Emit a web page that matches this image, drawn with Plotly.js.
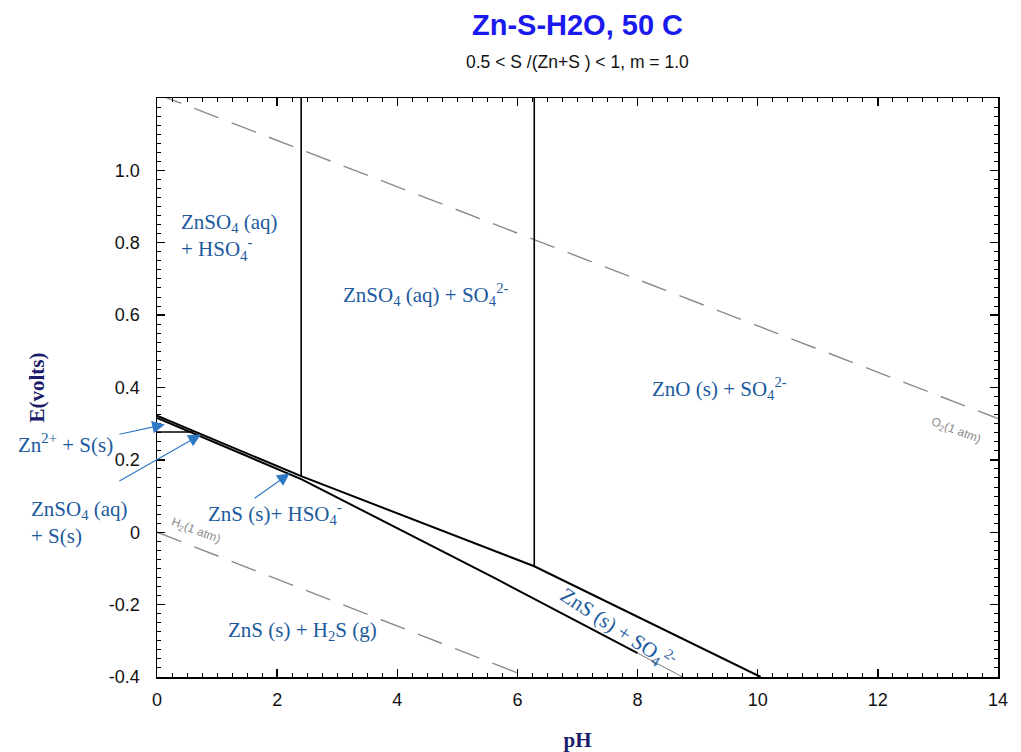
<!DOCTYPE html>
<html>
<head>
<meta charset="utf-8">
<script src="https://cdn.plot.ly/plotly-3.0.1.min.js"></script>
<style>
html,body{margin:0;padding:0;background:#fff;}
#chart{width:1021px;height:752px;}
</style>
</head>
<body>
<div id="chart"></div>
<script>
// ---- data (pH, E in volts) ----
const upperPH = [0, 2.4, 6.28, 10.05];
const upperE  = [0.322, 0.155, -0.094, -0.4];
const lowerPH = [0, 2.4, 5.6, 8.0];
const lowerE  = [0.316, 0.147, -0.125, -0.334];
const lowerTailPH = [8.0, 8.75];
const lowerTailE  = [-0.334, -0.4];
const horizPH = [0, 0.6];
const horizE  = [0.277, 0.277];
const vert1PH = [2.4, 2.4];
const vert1E  = [1.2, 0.155];
const vert2PH = [6.28, 6.28];
const vert2E  = [1.2, -0.094];
const o2PH = [0, 14];
const o2E  = [1.211, 0.314];
const h2PH = [0, 14];
const h2E  = [0, -0.907];

const xTickVals = [0, 2, 4, 6, 8, 10, 12, 14];
const xTickText = ['0', '2', '4', '6', '8', '10', '12', '14'];
const yTickVals = [-0.4, -0.2, 0, 0.2, 0.4, 0.6, 0.8, 1.0];
const yTickText = ['-0.4', '-0.2', '0', '0.2', '0.4', '0.6', '0.8', '1.0'];

// region labels inside the plot (data coordinates)
const labelText = [
  'ZnSO<sub>4</sub> (aq)<br>+ HSO<sub>4</sub><sup>-</sup>',
  'ZnSO<sub>4</sub> (aq) + SO<sub>4</sub><sup>2-</sup>',
  'ZnO (s) + SO<sub>4</sub><sup>2-</sup>',
  'ZnS (s) + H<sub>2</sub>S (g)',
  'ZnS (s)+ HSO<sub>4</sub><sup>-</sup>'
];
const labelPH = [0.37, 4.47, 9.37, 2.43, 1.97];
const labelE  = [0.815, 0.656, 0.397, -0.272, 0.053];
const labelAlign = ['left', 'center', 'center', 'center', 'center'];

// region labels outside the plot, left of the E axis (pH units, E)
const outText = ['Zn<sup>2+</sup> + S(s)', 'ZnSO<sub>4</sub> (aq)<br>+ S(s)'];
const outPH = [-1.53, -2.13];
const outE  = [0.245, 0.026];
const outAlign = ['center', 'left'];

// arrows: tail -> head
const arrowTailPH = [-0.65, -0.65, 1.6];
const arrowTailE  = [0.27, 0.139, 0.091];
const arrowHeadPH = [0.13, 0.73, 2.21];
const arrowHeadE  = [0.298, 0.27, 0.163];

const labelColor = '#205a9e';
const arrowColor = '#2f78c4';
const serif = '"Liberation Serif", "Times New Roman", serif';
const sans = '"Liberation Sans", Arial, sans-serif';

const X0 = 0, X1 = 14, Y0 = -0.4, Y1 = 1.2;

function line(x, y, w, dash, color) {
  return {x: x, y: y, mode: 'lines', type: 'scatter', hoverinfo: 'skip',
          line: {color: color || '#000', width: w, dash: dash || 'solid'}};
}

const traces = [
  line(o2PH, o2E, 1.4, '26px,14px', '#8a8a8a'),
  line(h2PH, h2E, 1.4, '26px,14px', '#8a8a8a'),
  line(vert1PH, vert1E, 1.6),
  line(vert2PH, vert2E, 1.6),
  line(upperPH, upperE, 2),
  line(lowerPH, lowerE, 2),
  line(lowerTailPH, lowerTailE, 0.8, 'solid', '#555'),
  line(horizPH, horizE, 1.6)
];

const annotations = [];
for (let i = 0; i < labelText.length; i++) {
  annotations.push({
    x: labelPH[i], y: labelE[i], xref: 'x', yref: 'y',
    text: labelText[i], showarrow: false, align: labelAlign[i],
    xanchor: labelAlign[i] === 'left' ? 'left' : 'center',
    font: {family: serif, size: 21, color: labelColor}
  });
}
for (let i = 0; i < outText.length; i++) {
  annotations.push({
    x: (outPH[i] - X0) / (X1 - X0), y: (outE[i] - Y0) / (Y1 - Y0),
    xref: 'paper', yref: 'paper',
    text: outText[i], showarrow: false, align: outAlign[i],
    xanchor: outAlign[i] === 'left' ? 'left' : 'center', yanchor: 'middle',
    font: {family: serif, size: 21, color: labelColor}
  });
}
// rotated label ZnS(s) + SO4 2-
annotations.push({
  x: 7.67, y: -0.266, xref: 'x', yref: 'y', showarrow: false,
  text: 'ZnS (s) + SO<sub>4</sub><sup>2-</sup>', textangle: 33,
  font: {family: serif, size: 21, color: labelColor}
});
// gas line labels
annotations.push({
  x: 13.3, y: 0.281, xref: 'x', yref: 'y', showarrow: false,
  text: 'O<sub>2</sub>(1 atm)', textangle: 21,
  font: {family: sans, size: 12, color: '#8a8a8a'}
});
annotations.push({
  x: 0.64, y: 0.003, xref: 'x', yref: 'y', showarrow: false,
  text: 'H<sub>2</sub>(1 atm)', textangle: 21,
  font: {family: sans, size: 12, color: '#8a8a8a'}
});
for (let i = 0; i < arrowTailPH.length; i++) {
  annotations.push({
    x: arrowHeadPH[i], y: arrowHeadE[i], xref: 'x', yref: 'y',
    ax: arrowTailPH[i], ay: arrowTailE[i], axref: 'x', ayref: 'y',
    text: '', showarrow: true, arrowhead: 2, arrowsize: 2.1, arrowwidth: 1.2,
    arrowcolor: arrowColor, standoff: 0
  });
}
// subtitle
annotations.push({
  x: 0.5, y: 1 + (98 - 62) / (752 - 98 - 75), xref: 'paper', yref: 'paper',
  xanchor: 'center', yanchor: 'middle', showarrow: false,
  text: '0.5 < S /(Zn+S ) < 1, m = 1.0',
  font: {family: sans, size: 17.5, color: '#111'}
});

const layout = {
  width: 1021, height: 752,
  margin: {l: 157, r: 23, t: 98, b: 75},
  paper_bgcolor: '#fff', plot_bgcolor: '#fff',
  showlegend: false,
  title: {text: '<b>Zn-S-H2O, 50 C</b>', xref: 'paper', x: 0.5, xanchor: 'center',
          yref: 'container', y: 0.967, yanchor: 'middle',
          font: {family: sans, size: 29, color: '#1a1aee'}},
  xaxis: {
    range: [X0, X1], showgrid: false, zeroline: false,
    showline: true, linecolor: '#000', linewidth: 1.5, mirror: 'allticks',
    ticks: 'inside', ticklen: 8, tickwidth: 1.3, tickcolor: '#000',
    tickvals: xTickVals, ticktext: xTickText, ticklabelstandoff: 6,
    tickfont: {family: sans, size: 18, color: '#111'},
    minor: {dtick: 0.25, ticks: 'inside', ticklen: 4, tickwidth: 1, tickcolor: '#000', showgrid: false},
    title: {text: '<b>pH</b>', font: {family: serif, size: 21, color: '#1c1c6c'}, standoff: 24}
  },
  yaxis: {
    range: [Y0, Y1], showgrid: false, zeroline: false,
    showline: true, linecolor: '#000', linewidth: 1.5, mirror: 'allticks',
    ticks: 'inside', ticklen: 8, tickwidth: 1.3, tickcolor: '#000',
    tickvals: yTickVals, ticktext: yTickText, ticklabelstandoff: 12,
    tickfont: {family: sans, size: 18, color: '#111'},
    minor: {dtick: 0.025, ticks: 'inside', ticklen: 4, tickwidth: 1, tickcolor: '#000', showgrid: false},
    title: {text: '<b>E(volts)</b>', font: {family: serif, size: 21, color: '#1c1c6c'}, standoff: 58}
  },
  annotations: annotations
};

Plotly.newPlot('chart', traces, layout, {staticPlot: true, displayModeBar: false});
</script>
</body>
</html>
